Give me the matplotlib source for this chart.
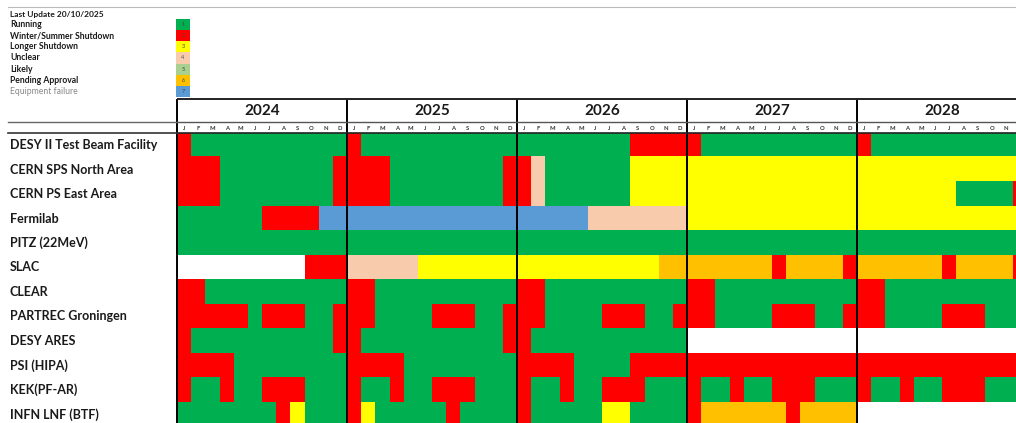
import numpy as np
import matplotlib
matplotlib.use("Agg")
import matplotlib.pyplot as plt
from matplotlib.colors import ListedColormap, BoundaryNorm
from matplotlib import transforms

plt.rcParams['font.family'] = ['Lato', 'DejaVu Sans']

# ---------- data ----------
years = ['2024', '2025', '2026', '2027', '2028']
month_letters = ['J', 'F', 'M', 'A', 'M', 'J', 'J', 'A', 'S', 'O', 'N', 'D']

facilities = ['DESY II Test Beam Facility', 'CERN SPS North Area', 'CERN PS East Area',
              'Fermilab', 'PITZ (22MeV)', 'SLAC', 'CLEAR', 'PARTREC Groningen',
              'DESY ARES', 'PSI (HIPA)', 'KEK(PF-AR)', 'INFN LNF (BTF)']

# status per month, one block of 12 per year (2024 .. 2028); 0 = no entry
desy_ii = '211111111111 211111111111 111111112222 211111111111 211111111111'
cern_sps = '222111111112 222111111112 241111113333 333333333333 333333333333'
cern_ps = '222111111112 222111111112 241111113333 333333333333 333333311112'
fermilab = '111111222277 777777777777 777774444444 333333333333 333333333333'
pitz = '111111111111 111111111111 111111111111 111111111111 111111111111'
slac = '000000000222 444443333333 333333333366 666666266662 666666266662'
clear = '221111111111 221111111111 221111111111 221111111111 221111111111'
partrec = '222221222112 221111222112 221111222112 221111222112 221111222111'
desy_ares = '211111111112 211111111112 211111111111 000000000000 000000000000'
psi = '222211111111 222211111111 222211112222 222222222222 222222222222'
kek = '211211222111 211211222111 211211222111 211211222111 211211222111'
infn = '111111123111 231111121111 211111331111 266666626666 000000000000'

schedules = [desy_ii, cern_sps, cern_ps, fermilab, pitz, slac, clear, partrec,
             desy_ares, psi, kek, infn]

legend_labels = ['Running', 'Winter/Summer Shutdown', 'Longer Shutdown', 'Unclear',
                 'Likely', 'Pending Approval', 'Equipment failure']
legend_codes = [1, 2, 3, 4, 5, 6, 7]
last_update = 'Last Update 20/10/2025'

# code -> colour (0 white)
status_colors = ['#FFFFFF', '#00B050', '#FF0000', '#FFFF00', '#F8CBAD',
                 '#A9D08E', '#FFC000', '#5B9BD5']

# ---------- layout (pixels of a 1016x423 canvas) ----------
W, H = 1016, 423
x0_px, y0_px = 177.0, 133.0
month_px, row_px = 14.17, 24.45


def fx(px):
    return px / W


def fy(py):
    return 1 - py / H


grid = np.array([[int(c) for c in s.replace(' ', '')] for s in schedules])
cmap = ListedColormap(status_colors)
norm = BoundaryNorm(np.arange(-0.5, len(status_colors) + 0.5), cmap.N)

fig = plt.figure(figsize=(W / 100, H / 100), dpi=100)
fig.patch.set_facecolor('white')

n_months_vis = (W - x0_px) / month_px
n_rows_vis = (H - y0_px) / row_px
ax = fig.add_axes([fx(x0_px), 0, fx(W - x0_px), (H - y0_px) / H])
ax.imshow(grid, cmap=cmap, norm=norm, aspect='auto', interpolation='nearest',
          extent=(0, grid.shape[1], grid.shape[0], 0))
ax.set_xlim(0, n_months_vis)
ax.set_ylim(n_rows_vis, 0)
ax.axis('off')

# header coordinates in row units (negative = above grid)
y_top = (99 - y0_px) / row_px
y_mid = (122.5 - y0_px) / row_px
y_month = (128 - y0_px) / row_px

ax.vlines(np.arange(0, len(years) * 12, 12), y_top, n_rows_vis, color='black',
          lw=1.4, clip_on=False)
ax.hlines([y_top], 0, n_months_vis, color='#222222', lw=1.4, clip_on=False)
ax.hlines([y_mid], 0, n_months_vis, color='#555555', lw=1.0, clip_on=False)
ax.hlines([0], 0, n_months_vis, color='#222222', lw=1.2, clip_on=False)

for i, yr in enumerate(years):
    ax.text(i * 12 + 6, (y_top + y_mid) / 2, yr, ha='center', va='center',
            fontsize=11, fontweight='bold', color='#1a1a1a', clip_on=False)
    for m, ml in enumerate(month_letters):
        if i * 12 + m + 0.5 < n_months_vis:
            ax.text(i * 12 + m + 0.5, y_month, ml, ha='center', va='center',
                    fontsize=4.2, fontweight='bold', color='#333333', clip_on=False)

# label column
trans = transforms.blended_transform_factory(fig.transFigure, ax.transData)
for r, name in enumerate(facilities):
    ax.text(fx(10), r + 0.5, name, transform=trans, ha='left', va='center',
            fontsize=9, fontweight='bold', color='#1a1a1a', clip_on=False)
ax.plot([fx(8), fx(x0_px)], [y_mid, y_mid], transform=trans, color='#666666',
        lw=1.0, clip_on=False)
ax.plot([fx(8), fx(x0_px)], [0, 0], transform=trans, color='#333333',
        lw=1.2, clip_on=False)

# top rule
fig.add_artist(plt.Line2D([fx(8), 1], [fy(7), fy(7)], color='#bbbbbb', lw=0.8))

# legend
fig.text(fx(10), fy(14), last_update, ha='left', va='center', fontsize=6,
         fontweight='bold', color='#1a1a1a')
sw_top, sw_h = 19.0, 11.14
ax_leg = fig.add_axes([fx(176), fy(sw_top + sw_h * len(legend_codes)),
                       fx(14), sw_h * len(legend_codes) / H])
ax_leg.imshow(np.array(legend_codes)[:, None], cmap=cmap, norm=norm, aspect='auto',
              extent=(0, 1, len(legend_codes), 0))
ax_leg.set_xlim(0, 1)
ax_leg.set_ylim(len(legend_codes), 0)
ax_leg.axis('off')
for k, (lab, code) in enumerate(zip(legend_labels, legend_codes)):
    ax_leg.text(0.5, k + 0.5, str(code), ha='center', va='center', fontsize=4,
                color='#444444')
    last = k == len(legend_labels) - 1
    fig.text(fx(10), fy(sw_top + sw_h * (k + 0.5)), lab, ha='left', va='center',
             fontsize=6.2, fontweight='normal' if last else 'bold',
             color='#888888' if last else '#1a1a1a')

fig.savefig('out.png', dpi=100, facecolor='white')
